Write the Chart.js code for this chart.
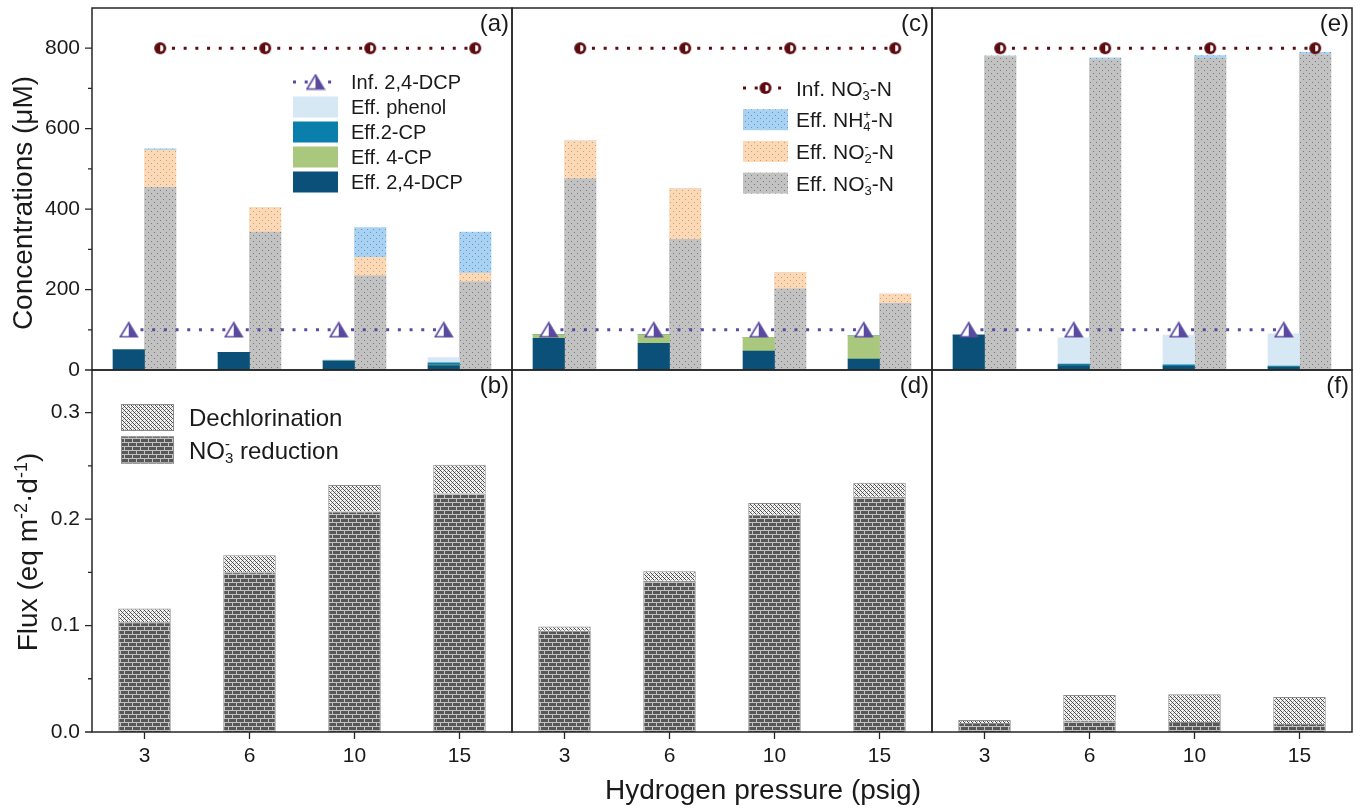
<!DOCTYPE html>
<html lang="en">
<head>
<meta charset="UTF-8">
<title>Effect of hydrogen pressure on concentrations and fluxes</title>
<script src="https://cdn.jsdelivr.net/npm/chart.js"></script>
<style>
  body { margin: 0; background: #fff; }
  #fig { position: relative; width: 1365px; height: 812px; font-family: "Liberation Sans", Arial, sans-serif; color: #1a1a1a; }
  #fig canvas { position: absolute; }
  .ytitle { position: absolute; font-size: 28px; line-height: 28px; white-space: nowrap; transform: translate(-50%, -50%) rotate(-90deg); }
  .ytitle sup { font-size: 18px; line-height: 0; vertical-align: 10px; }
  .xtitle { position: absolute; font-size: 28px; line-height: 28px; white-space: nowrap; transform: translateX(-50%); }
</style>
</head>
<body>
<div id="fig">
  <canvas id="pa" width="520" height="378" style="left:0;top:0"></canvas>
  <canvas id="pc" width="436" height="378" style="left:504px;top:0"></canvas>
  <canvas id="pe" width="436" height="378" style="left:924px;top:0"></canvas>
  <canvas id="pb" width="520" height="450" style="left:0;top:362px"></canvas>
  <canvas id="pd" width="436" height="450" style="left:504px;top:362px"></canvas>
  <canvas id="pf" width="436" height="450" style="left:924px;top:362px"></canvas>
  <div class="ytitle" style="left:23px;top:203px">Concentrations (μM)</div>
  <div class="ytitle" style="left:28px;top:552px">Flux (eq m<sup>-2</sup>·d<sup>-1</sup>)</div>
  <div class="xtitle" style="left:763px;top:776px">Hydrogen pressure (psig)</div>
</div>
<script>
const pressures = ['3', '6', '10', '15'];
const concTicks = [0, 200, 400, 600, 800];
const concMinor = [100, 300, 500, 700];
const fluxTicks = [0, 0.1, 0.2, 0.3];
const fluxMinor = [0.05, 0.15, 0.25];

// influent levels (same in every panel)
const infDcp = [100, 100, 100, 100];
const infNo3 = [800, 800, 800, 800];

// panel (a)
const dcpA = [50, 44, 22, 11];
const cp4A = [0, 0, 0, 1];
const cp2A = [0, 0, 1, 6];
const phenolA = [0, 0, 3, 13];
const no3A = [454, 343, 234, 219];
const no2A = [92, 61, 46, 22];
const nh4A = [4, 0, 74, 102];

// panel (c)
const dcpC = [79, 66, 47, 27];
const cp4C = [9, 22, 34, 58];
const cp2C = [0, 0, 0, 0];
const phenolC = [0, 0, 0, 0];
const no3C = [476, 325, 202, 166];
const no2C = [94, 126, 40, 23];
const nh4C = [0, 0, 0, 0];

// panel (e)
const dcpE = [87, 11, 9, 7];
const cp4E = [0, 0, 0, 0];
const cp2E = [0, 4, 4, 3];
const phenolE = [0, 65, 74, 80];
const no3E = [779, 772, 775, 784];
const no2E = [0, 0, 0, 0];
const nh4E = [2, 4, 7, 6];

// fluxes, panels (b), (d), (f)
const nitrB = [0.103, 0.150, 0.207, 0.224];
const dechB = [0.013, 0.016, 0.025, 0.027];
const nitrD = [0.095, 0.142, 0.204, 0.221];
const dechD = [0.004, 0.009, 0.011, 0.013];
const nitrF = [0.0085, 0.0107, 0.0094, 0.0075];
const dechF = [0.0028, 0.0241, 0.0261, 0.0254];

const FONT = '"Liberation Sans", Arial, sans-serif';
const INK = '#1a1a1a';
const PLOT_W = 420;            // width of each panel's plot area
const CAT_PCT = 0.6;           // two touching bars per pressure
const SHIFT = CAT_PCT / 4;     // centre of left / right bar, in category units

Chart.defaults.font.family = FONT;
Chart.defaults.color = INK;

function tile(w, h, draw) {
  const c = document.createElement('canvas');
  c.width = w; c.height = h;
  const g = c.getContext('2d');
  draw(g);
  return g.createPattern(c, 'repeat');
}
function dots(base, dot) {
  return tile(6, 6, g => {
    g.fillStyle = base; g.fillRect(0, 0, 6, 6);
    g.fillStyle = dot; g.fillRect(1, 1, 1, 1); g.fillRect(4, 4, 1, 1);
  });
}
const grayDots = dots('#c2c2c2', '#7a7a7a');
const orangeDots = dots('#fcd9b6', '#d49a6c');
const blueDots = dots('#a9d2f2', '#5f95c4');
const brick = tile(8, 8, g => {
  g.fillStyle = '#585858'; g.fillRect(0, 0, 8, 8);
  g.fillStyle = '#c2c2c2';
  g.fillRect(0, 0, 8, 1); g.fillRect(0, 4, 8, 1);
  g.fillRect(0, 1, 1, 3); g.fillRect(4, 5, 1, 3);
});
const hatch = tile(4, 4, g => {
  g.fillStyle = '#f4f4f4'; g.fillRect(0, 0, 4, 4);
  g.fillStyle = '#4a4a4a';
  for (let i = 0; i < 4; i++) g.fillRect(i, i, 1, 1);
  g.fillStyle = '#a0a0a0';
  g.fillRect(3, 1, 1, 1); g.fillRect(1, 3, 1, 1);
});

// half-filled markers
function triangleMark(color) {
  const c = document.createElement('canvas');
  c.width = 20; c.height = 17;
  const g = c.getContext('2d');
  g.beginPath(); g.moveTo(10, 1.5); g.lineTo(18.5, 15.5); g.lineTo(1.5, 15.5); g.closePath();
  g.fillStyle = '#fff'; g.fill();
  g.beginPath(); g.moveTo(10, 1.5); g.lineTo(18.5, 15.5); g.lineTo(10, 15.5); g.closePath();
  g.fillStyle = color; g.fill();
  g.beginPath(); g.moveTo(10, 1.5); g.lineTo(18.5, 15.5); g.lineTo(1.5, 15.5); g.closePath();
  g.strokeStyle = color; g.lineWidth = 1.6; g.stroke();
  return c;
}
function circleMark(color) {
  const c = document.createElement('canvas');
  c.width = 14; c.height = 14;
  const g = c.getContext('2d');
  g.beginPath(); g.arc(7, 7, 6, 0, Math.PI * 2); g.fillStyle = color; g.fill();
  g.beginPath(); g.arc(7, 7, 3.2, -Math.PI / 2, Math.PI / 2); g.closePath(); g.fillStyle = '#fff'; g.fill();
  return c;
}
const triMark = triangleMark('#5a4aa0');
const cirMark = circleMark('#5e0b10');

// text with sub/superscripts; parts are strings or {sub, sup}
function drawRich(ctx, parts, x, y, size) {
  let cx = x;
  ctx.textAlign = 'left'; ctx.textBaseline = 'alphabetic';
  for (const p of parts) {
    if (typeof p === 'string') {
      ctx.font = size + 'px ' + FONT;
      ctx.fillText(p, cx, y);
      cx += ctx.measureText(p).width;
    } else {
      const s = Math.round(size * 0.62);
      ctx.font = s + 'px ' + FONT;
      let w = 0;
      if (p.sub) { ctx.fillText(p.sub, cx, y + size * 0.2); w = Math.max(w, ctx.measureText(p.sub).width); }
      if (p.sup) { ctx.fillText(p.sup, cx, y - size * 0.4); w = Math.max(w, ctx.measureText(p.sup).width); }
      cx += w;
    }
  }
}

const frame = {
  id: 'frame',
  afterDatasetsDraw(chart) {
    const a = chart.chartArea, ctx = chart.ctx;
    ctx.save();
    ctx.strokeStyle = '#262626'; ctx.lineWidth = 1.5;
    ctx.strokeRect(a.left, a.top, a.right - a.left, a.bottom - a.top);
    ctx.restore();
  }
};

const tickMarks = {
  id: 'tickMarks',
  afterDraw(chart, args, o) {
    const a = chart.chartArea, ctx = chart.ctx;
    ctx.save();
    ctx.strokeStyle = '#262626'; ctx.lineWidth = 1.3;
    ctx.beginPath();
    const y = chart.scales.y;
    (o.major || []).forEach(v => { const p = y.getPixelForValue(v); ctx.moveTo(a.left - 7, p); ctx.lineTo(a.left, p); });
    (o.minor || []).forEach(v => { const p = y.getPixelForValue(v); ctx.moveTo(a.left - 4, p); ctx.lineTo(a.left, p); });
    if (o.xTicks) {
      pressures.forEach((_, i) => { const p = chart.scales.x.getPixelForValue(i); ctx.moveTo(p, a.bottom); ctx.lineTo(p, a.bottom + 7); });
    }
    ctx.stroke();
    ctx.restore();
  }
};

const panelTag = {
  id: 'panelTag',
  afterDraw(chart, args, o) {
    if (!o.text) return;
    const a = chart.chartArea, ctx = chart.ctx;
    ctx.save();
    ctx.font = '24px ' + FONT; ctx.fillStyle = INK;
    ctx.textAlign = 'right'; ctx.textBaseline = 'top';
    ctx.fillText(o.text, a.right - 3, a.top + 4);
    ctx.restore();
  }
};

const richLegend = {
  id: 'richLegend',
  afterDraw(chart, args, o) {
    if (!o.items) return;
    const a = chart.chartArea, ctx = chart.ctx;
    ctx.save();
    o.items.forEach((it, k) => {
      const ds = chart.data.datasets[it.ds];
      const x = a.left + o.x, cy = a.top + o.y + k * o.step;
      if (ds.type === 'line') {
        ctx.strokeStyle = ds.borderColor; ctx.lineWidth = ds.borderWidth;
        ctx.setLineDash(ds.borderDash);
        ctx.beginPath(); ctx.moveTo(x, cy); ctx.lineTo(x + o.boxW, cy); ctx.stroke();
        ctx.setLineDash([]);
        const img = ds.pointStyle;
        ctx.drawImage(img, x + o.boxW / 2 - img.width / 2, cy - img.height / 2);
      } else {
        ctx.fillStyle = ds.backgroundColor;
        ctx.fillRect(x, cy - o.boxH / 2, o.boxW, o.boxH);
        if (ds.borderWidth) {
          ctx.strokeStyle = ds.borderColor; ctx.lineWidth = ds.borderWidth;
          ctx.strokeRect(x + 0.5, cy - o.boxH / 2 + 0.5, o.boxW - 1, o.boxH - 1);
        }
      }
      ctx.fillStyle = INK;
      drawRich(ctx, it.label, x + o.textX, cy + o.size * 0.36, o.size);
    });
    ctx.restore();
  }
};

Chart.register(frame, tickMarks, panelTag, richLegend);

function yAxis(min, max, ticks, fmt, show) {
  return {
    display: show, min: min, max: max,
    grid: { display: false, drawTicks: false },
    border: { display: false },
    afterBuildTicks: ax => { ax.ticks = ticks.map(v => ({ value: v })); },
    afterFit: ax => {
      if (show) ax.width = 92;
      ax.paddingTop = 0; ax.paddingBottom = 0;
    },
    ticks: { padding: 12, font: { size: 21 }, color: INK, callback: fmt }
  };
}

function concChart(id, tag, s, showY, legend) {
  const pts = (vals, dx) => vals.map((v, i) => ({ x: i + dx, y: v }));
  const bar = (label, stack, data, fill) => ({ label, stack, data, xAxisID: 'x', backgroundColor: fill });
  return new Chart(document.getElementById(id), {
    type: 'bar',
    data: {
      labels: pressures,
      datasets: [
        { type: 'line', label: 'Inf. 2,4-DCP', xAxisID: 'xl', stack: 'l1', data: pts(infDcp, -SHIFT),
          borderColor: '#5a4aa0', borderWidth: 3, borderDash: [3, 8.7], borderCapStyle: 'butt', pointStyle: triMark },
        { type: 'line', label: 'Inf. NO3-N', xAxisID: 'xl', stack: 'l2', data: pts(infNo3, SHIFT),
          borderColor: '#5e0b10', borderWidth: 3, borderDash: [3, 8.7], borderCapStyle: 'butt', pointStyle: cirMark },
        bar('Eff. 2,4-DCP', 'cp', s.dcp, '#0b5079'),
        bar('Eff. 4-CP', 'cp', s.cp4, '#a9c77d'),
        bar('Eff.2-CP', 'cp', s.cp2, '#0a7fab'),
        bar('Eff. phenol', 'cp', s.phenol, '#d7e8f5'),
        bar('Eff. NO3-N', 'n', s.no3, grayDots),
        bar('Eff. NO2-N', 'n', s.no2, orangeDots),
        bar('Eff. NH4-N', 'n', s.nh4, blueDots)
      ]
    },
    options: {
      responsive: false, animation: false,
      datasets: { bar: { barThickness: PLOT_W / pressures.length * CAT_PCT / 2, borderWidth: 0 } },
      layout: { padding: showY ? { top: 8, right: 8, bottom: 8 } : { top: 8, left: 8, right: 8, bottom: 8 } },
      scales: {
        x: { type: 'category', display: false },
        xl: { type: 'linear', display: false, offset: false, min: -0.5, max: pressures.length - 0.5 },
        y: yAxis(0, 900, concTicks, v => String(v), showY)
      },
      plugins: {
        legend: { display: false }, tooltip: { enabled: false },
        panelTag: { text: tag },
        tickMarks: showY ? { major: concTicks, minor: concMinor } : {},
        richLegend: legend || {}
      }
    }
  });
}

function fluxChart(id, tag, nitr, dech, showY, legend) {
  return new Chart(document.getElementById(id), {
    type: 'bar',
    data: {
      labels: pressures,
      datasets: [
        { label: 'NO3 reduction', stack: 'f', data: nitr, backgroundColor: brick, borderColor: '#8c8c8c', borderWidth: 1 },
        { label: 'Dechlorination', stack: 'f', data: dech, backgroundColor: hatch, borderColor: '#8c8c8c', borderWidth: 1 }
      ]
    },
    options: {
      responsive: false, animation: false,
      datasets: { bar: { categoryPercentage: 0.5, barPercentage: 1 } },
      layout: { padding: showY ? { top: 8, right: 8 } : { top: 8, left: 8, right: 8 } },
      scales: {
        x: {
          grid: { display: false, drawTicks: false }, border: { display: false },
          afterFit: ax => { ax.height = 80; },
          ticks: { padding: 12, font: { size: 21 }, color: INK }
        },
        y: yAxis(0, 0.34, fluxTicks, v => v.toFixed(1), showY)
      },
      plugins: {
        legend: { display: false }, tooltip: { enabled: false },
        panelTag: { text: tag },
        tickMarks: showY ? { major: fluxTicks, minor: fluxMinor, xTicks: true } : { xTicks: true },
        richLegend: legend || {}
      }
    }
  });
}

concChart('pa', '(a)', { dcp: dcpA, cp4: cp4A, cp2: cp2A, phenol: phenolA, no3: no3A, no2: no2A, nh4: nh4A }, true, {
  x: 201, y: 74, step: 25, boxW: 45, boxH: 21, textX: 58, size: 20,
  items: [
    { ds: 0, label: ['Inf. 2,4-DCP'] },
    { ds: 5, label: ['Eff. phenol'] },
    { ds: 4, label: ['Eff.2-CP'] },
    { ds: 3, label: ['Eff. 4-CP'] },
    { ds: 2, label: ['Eff. 2,4-DCP'] }
  ]
});
concChart('pc', '(c)', { dcp: dcpC, cp4: cp4C, cp2: cp2C, phenol: phenolC, no3: no3C, no2: no2C, nh4: nh4C }, false, {
  x: 231, y: 80, step: 31.7, boxW: 45, boxH: 21, textX: 53, size: 21,
  items: [
    { ds: 1, label: ['Inf. NO', { sub: '3', sup: '-' }, '-N'] },
    { ds: 8, label: ['Eff. NH', { sub: '4', sup: '+' }, '-N'] },
    { ds: 7, label: ['Eff. NO', { sub: '2', sup: '-' }, '-N'] },
    { ds: 6, label: ['Eff. NO', { sub: '3', sup: '-' }, '-N'] }
  ]
});
concChart('pe', '(e)', { dcp: dcpE, cp4: cp4E, cp2: cp2E, phenol: phenolE, no3: no3E, no2: no2E, nh4: nh4E }, false);

fluxChart('pb', '(b)', nitrB, dechB, true, {
  x: 29, y: 47.5, step: 32.5, boxW: 53, boxH: 27, textX: 68, size: 24,
  items: [
    { ds: 1, label: ['Dechlorination'] },
    { ds: 0, label: ['NO', { sub: '3', sup: '-' }, ' reduction'] }
  ]
});
fluxChart('pd', '(d)', nitrD, dechD, false);
fluxChart('pf', '(f)', nitrF, dechF, false);
</script>
</body>
</html>
